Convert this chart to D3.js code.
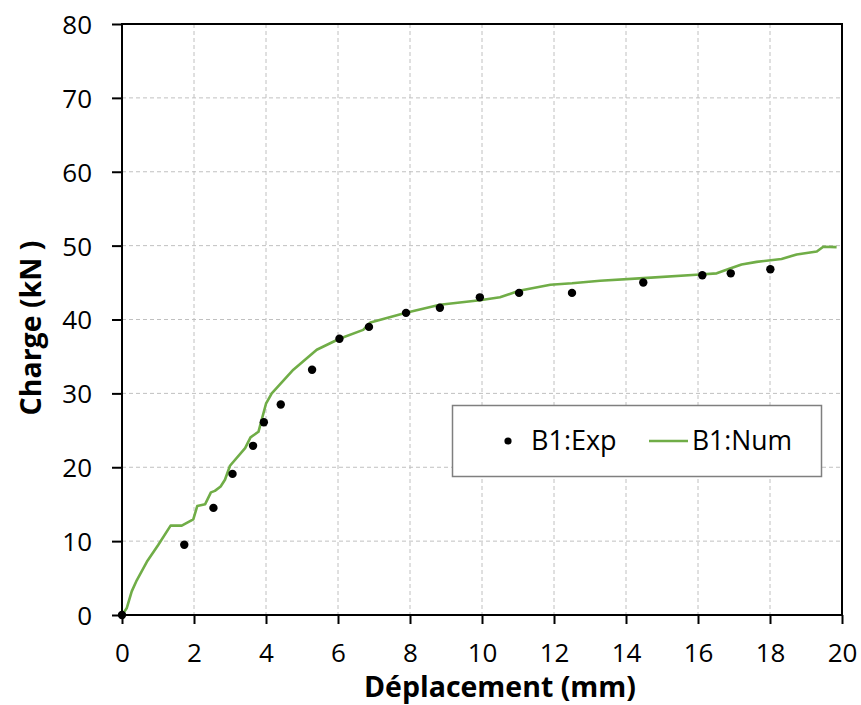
<!DOCTYPE html>
<html>
<head>
<meta charset="utf-8">
<script src="https://cdn.jsdelivr.net/npm/d3@7"></script>
<style>
    body { margin: 0; background: #fff; }
    text { font-family: "Open Sans", sans-serif; fill: #000; }
    .grid line { stroke: #c0c0c0; stroke-dasharray: 4,3; stroke-width: 1; }
    .axis path, .axis line { stroke: #000; stroke-width: 2; }
</style>
</head>
<body>
<div id="chart"></div>
<script>
// experimental points
var expX = [0, 1.73, 2.54, 3.07, 3.64, 3.94, 4.41, 5.28, 6.04, 6.86, 7.89, 8.83, 9.94, 11.03, 12.5, 14.48, 16.12, 16.91, 18.01];
var expY = [0, 9.5, 14.5, 19.1, 22.9, 26.1, 28.5, 33.2, 37.4, 39.0, 40.9, 41.6, 43.0, 43.6, 43.6, 45.0, 46.0, 46.25, 46.8];

// numerical curve
var numX = [0, 0.13, 0.27, 0.41, 0.69, 1.01, 1.35, 1.66, 1.98, 2.09, 2.31, 2.47, 2.58, 2.74, 2.86, 3.0, 3.42, 3.57, 3.79, 4.0,
    4.16, 4.76, 5.41, 6.04, 6.7, 6.9, 7.89, 8.83, 9.94, 10.5, 11.03, 11.9, 12.5, 13.28, 14.48, 16.06, 16.52, 16.89, 17.21,
    17.63, 18.32, 18.74, 19.3, 19.48, 19.85];
var numY = [0, 0.9, 3.2, 4.7, 7.2, 9.5, 12.1, 12.1, 12.95, 14.75, 15.0, 16.6, 16.8, 17.4, 18.3, 20.2, 22.6, 24.05, 24.8, 28.6,
    30.0, 33.2, 35.9, 37.4, 38.6, 39.6, 40.9, 42.0, 42.6, 43.0, 43.9, 44.7, 44.9, 45.25, 45.6, 46.1, 46.25, 46.9, 47.45,
    47.8, 48.2, 48.8, 49.2, 49.85, 49.8];

var xTicks = [0, 2, 4, 6, 8, 10, 12, 14, 16, 18, 20];
var yTicks = [0, 10, 20, 30, 40, 50, 60, 70, 80];
var seriesNames = ["B1:Exp", "B1:Num"];

var margin = {top: 24, right: 19, bottom: 90, left: 122};
var width = 861 - margin.left - margin.right,
    height = 705 - margin.top - margin.bottom;

var svg = d3.select("#chart").append("svg")
    .attr("width", 861)
    .attr("height", 705);

var g = svg.append("g")
    .attr("transform", "translate(" + margin.left + "," + margin.top + ")");

var x = d3.scaleLinear().domain([0, 20]).range([0, width]);
var y = d3.scaleLinear().domain([0, 80]).range([height, 0]);

// gridlines
g.append("g")
    .attr("class", "grid")
    .selectAll("line.h")
    .data(yTicks)
    .enter().append("line")
    .attr("x1", 0).attr("x2", width)
    .attr("y1", d => y(d)).attr("y2", d => y(d));

g.append("g")
    .attr("class", "grid")
    .selectAll("line.v")
    .data(xTicks)
    .enter().append("line")
    .attr("y1", 0).attr("y2", height)
    .attr("x1", d => x(d)).attr("x2", d => x(d));

// box around plot
g.append("rect")
    .attr("width", width)
    .attr("height", height)
    .style("fill", "none")
    .style("stroke", "#000")
    .style("stroke-width", 2);

var xAxis = d3.axisBottom(x).tickValues(xTicks).tickSize(9).tickPadding(20);
var yAxis = d3.axisLeft(y).tickValues(yTicks).tickSize(10).tickPadding(20);

g.append("g")
    .attr("class", "x-axis axis")
    .attr("transform", "translate(0," + height + ")")
    .call(xAxis)
    .call(a => a.select(".domain").remove());

g.append("g")
    .attr("class", "y-axis axis")
    .call(yAxis)
    .call(a => a.select(".domain").remove());

g.selectAll(".axis text")
    .style("font-family", "'Open Sans', sans-serif")
    .style("font-size", "26px");

g.selectAll(".y-axis text").attr("dy", "0.36em").attr("x", -30);

// axis titles
svg.append("text")
    .attr("x", 500)
    .attr("y", 697)
    .style("text-anchor", "middle")
    .style("font-weight", "bold")
    .style("font-size", "28.5px")
    .text("Déplacement (mm)");

svg.append("text")
    .attr("transform", "translate(41,328) rotate(-90)")
    .style("text-anchor", "middle")
    .style("font-weight", "bold")
    .style("font-size", "28.5px")
    .text("Charge (kN )");

// numerical curve
var numData = numX.map((d, i) => [d, numY[i]]);
var line = d3.line()
    .x(d => x(d[0]))
    .y(d => y(d[1]));

g.append("path")
    .datum(numData)
    .attr("d", line)
    .style("fill", "none")
    .style("stroke", "#70ad47")
    .style("stroke-width", 2.6)
    .style("stroke-linejoin", "round");

// experimental points
var expData = expX.map((d, i) => ({x: d, y: expY[i]}));
g.selectAll(".point")
    .data(expData)
    .enter().append("circle")
    .attr("class", "point")
    .attr("r", 4.2)
    .attr("cx", d => x(d.x))
    .attr("cy", d => y(d.y))
    .style("fill", "#000");

// legend
var legend = svg.append("g").attr("class", "legend");
legend.append("rect")
    .attr("x", 452.5).attr("y", 405.5)
    .attr("width", 369).attr("height", 71)
    .style("fill", "#fff")
    .style("stroke", "#7f7f7f")
    .style("stroke-width", 1.5);

legend.append("circle")
    .attr("cx", 508).attr("cy", 441).attr("r", 3.6)
    .style("fill", "#000");
legend.append("text")
    .attr("x", 531).attr("y", 450)
    .style("font-size", "27px")
    .text(seriesNames[0]);

legend.append("line")
    .attr("x1", 649).attr("x2", 688)
    .attr("y1", 441).attr("y2", 441)
    .style("stroke", "#70ad47")
    .style("stroke-width", 2.6);
legend.append("text")
    .attr("x", 692).attr("y", 450)
    .style("font-size", "26.5px")
    .text(seriesNames[1]);
</script>
</body>
</html>
